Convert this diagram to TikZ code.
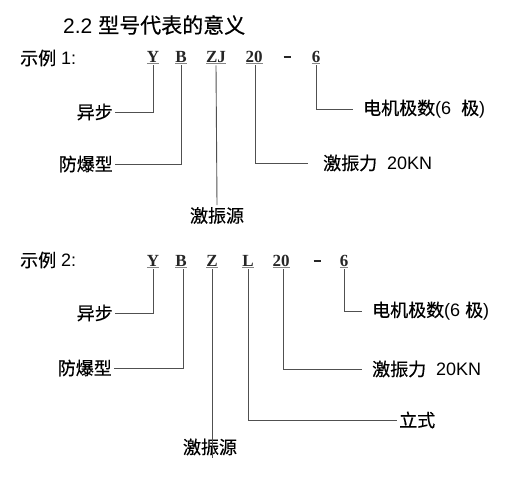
\documentclass[tikz,border=0pt]{standalone}
\usepackage{fontspec}
\usepackage{tikz}
\setmainfont{Liberation Sans}
\newfontfamily\zhfont[FakeBold=0.5]{Noto Sans CJK SC}
\newfontfamily\codefont{Liberation Serif}
\definecolor{leadgray}{HTML}{505050}
\definecolor{codeink}{HTML}{262626}
\newcommand{\zh}[1]{{\zhfont #1}}
\newcommand{\codeul}[1]{\leavevmode\rlap{\color{leadgray!70}\underline{\phantom{#1}}}#1}
\tikzset{
  code/.style={anchor=base, inner sep=1pt, font=\codefont\bfseries\fontsize{17}{17}\selectfont, text=codeink},
  lbl/.style={inner sep=2pt, font=\fontsize{18}{20}\selectfont},
  lead/.style={line width=0.9pt, draw=leadgray},
}

\begin{document}
\begin{tikzpicture}[x=1pt, y=-1pt]
  \useasboundingbox (0,0) rectangle (524,479);
  \node[anchor=west, inner sep=0pt, font=\fontsize{21}{23}\selectfont] (title) at (63,25)
    {2.2 \zh{型号代表的意义}};

  % example 1
  \node[lbl, anchor=west] (ex1) at (18,58) {\zh{示例} 1:};
  \node[code] (y1) at (153,62) {\codeul{Y}};
  \node[code] (b1) at (181,62) {\codeul{B}};
  \node[code] (zj1) at (216,62) {\codeul{ZJ}};
  \node[code] (n1) at (254,62) {\codeul{20}};
  \node[code] (d1) at (287,62) {\rule[4pt]{7pt}{1.6pt}};
  \node[code] (p1) at (316,62) {\codeul{6}};

  \node[lbl, anchor=east] (yb1) at (115,112) {\zh{异步}};
  \node[lbl, anchor=east] (fb1) at (115,164) {\zh{防爆型}};
  \node[lbl, anchor=north] (jy1) at (217,205) {\zh{激振源}};
  \node[lbl, anchor=west] (jl1) at (321,163) {\zh{激振力}\ \ 20KN};
  \node[lbl, anchor=west] (dj1) at (361,109) {\zh{电机极数}(6\ \ \zh{极})};

  \draw[lead] (y1.south) |- (yb1.east);
  \draw[lead] (b1.south) |- (fb1.east);
  \draw[lead] (zj1.south) -- (jy1.north);
  \draw[lead, shorten >=13pt] ([xshift=1pt]n1.south) |- (jl1.west);
  \draw[lead, shorten >=8pt] (p1.south) |- (dj1.west);

  % example 2
  \node[lbl, anchor=west] (ex2) at (18,260) {\zh{示例} 2:};
  \node[code] (y2) at (153,266) {\codeul{Y}};
  \node[code] (b2) at (181,266) {\codeul{B}};
  \node[code] (z2) at (212,266) {\codeul{Z}};
  \node[code] (l2) at (248,266) {\codeul{L}};
  \node[code] (n2) at (281,266) {\codeul{20}};
  \node[code] (d2) at (317,266) {\rule[4pt]{7pt}{1.6pt}};
  \node[code] (p2) at (344,266) {\codeul{6}};

  \node[lbl, anchor=east] (yb2) at (115,313) {\zh{异步}};
  \node[lbl, anchor=east] (fb2) at (114,368) {\zh{防爆型}};
  \node[lbl] (jy2) at (210,447) {\zh{激振源}};
  \node[lbl, anchor=west] (lz2) at (397,420) {\zh{立式}};
  \node[lbl, anchor=west] (jl2) at (370,369) {\zh{激振力}\ \ 20KN};
  \node[lbl, anchor=west] (dj2) at (370,311) {\zh{电机极数}(6\ \zh{极})};

  \draw[lead] (y2.south) |- (yb2.east);
  \draw[lead] ([xshift=2pt]b2.south) |- (fb2.east);
  \draw[lead] (z2.south) -- (z2.south |- jy2.south);
  \draw[lead] (l2.south) |- (lz2.west);
  \draw[lead, shorten >=8pt] ([xshift=2pt]n2.south) |- (jl2.west);
  \draw[lead, shorten >=8pt] (p2.south) |- (dj2.west);
\end{tikzpicture}
\end{document}
